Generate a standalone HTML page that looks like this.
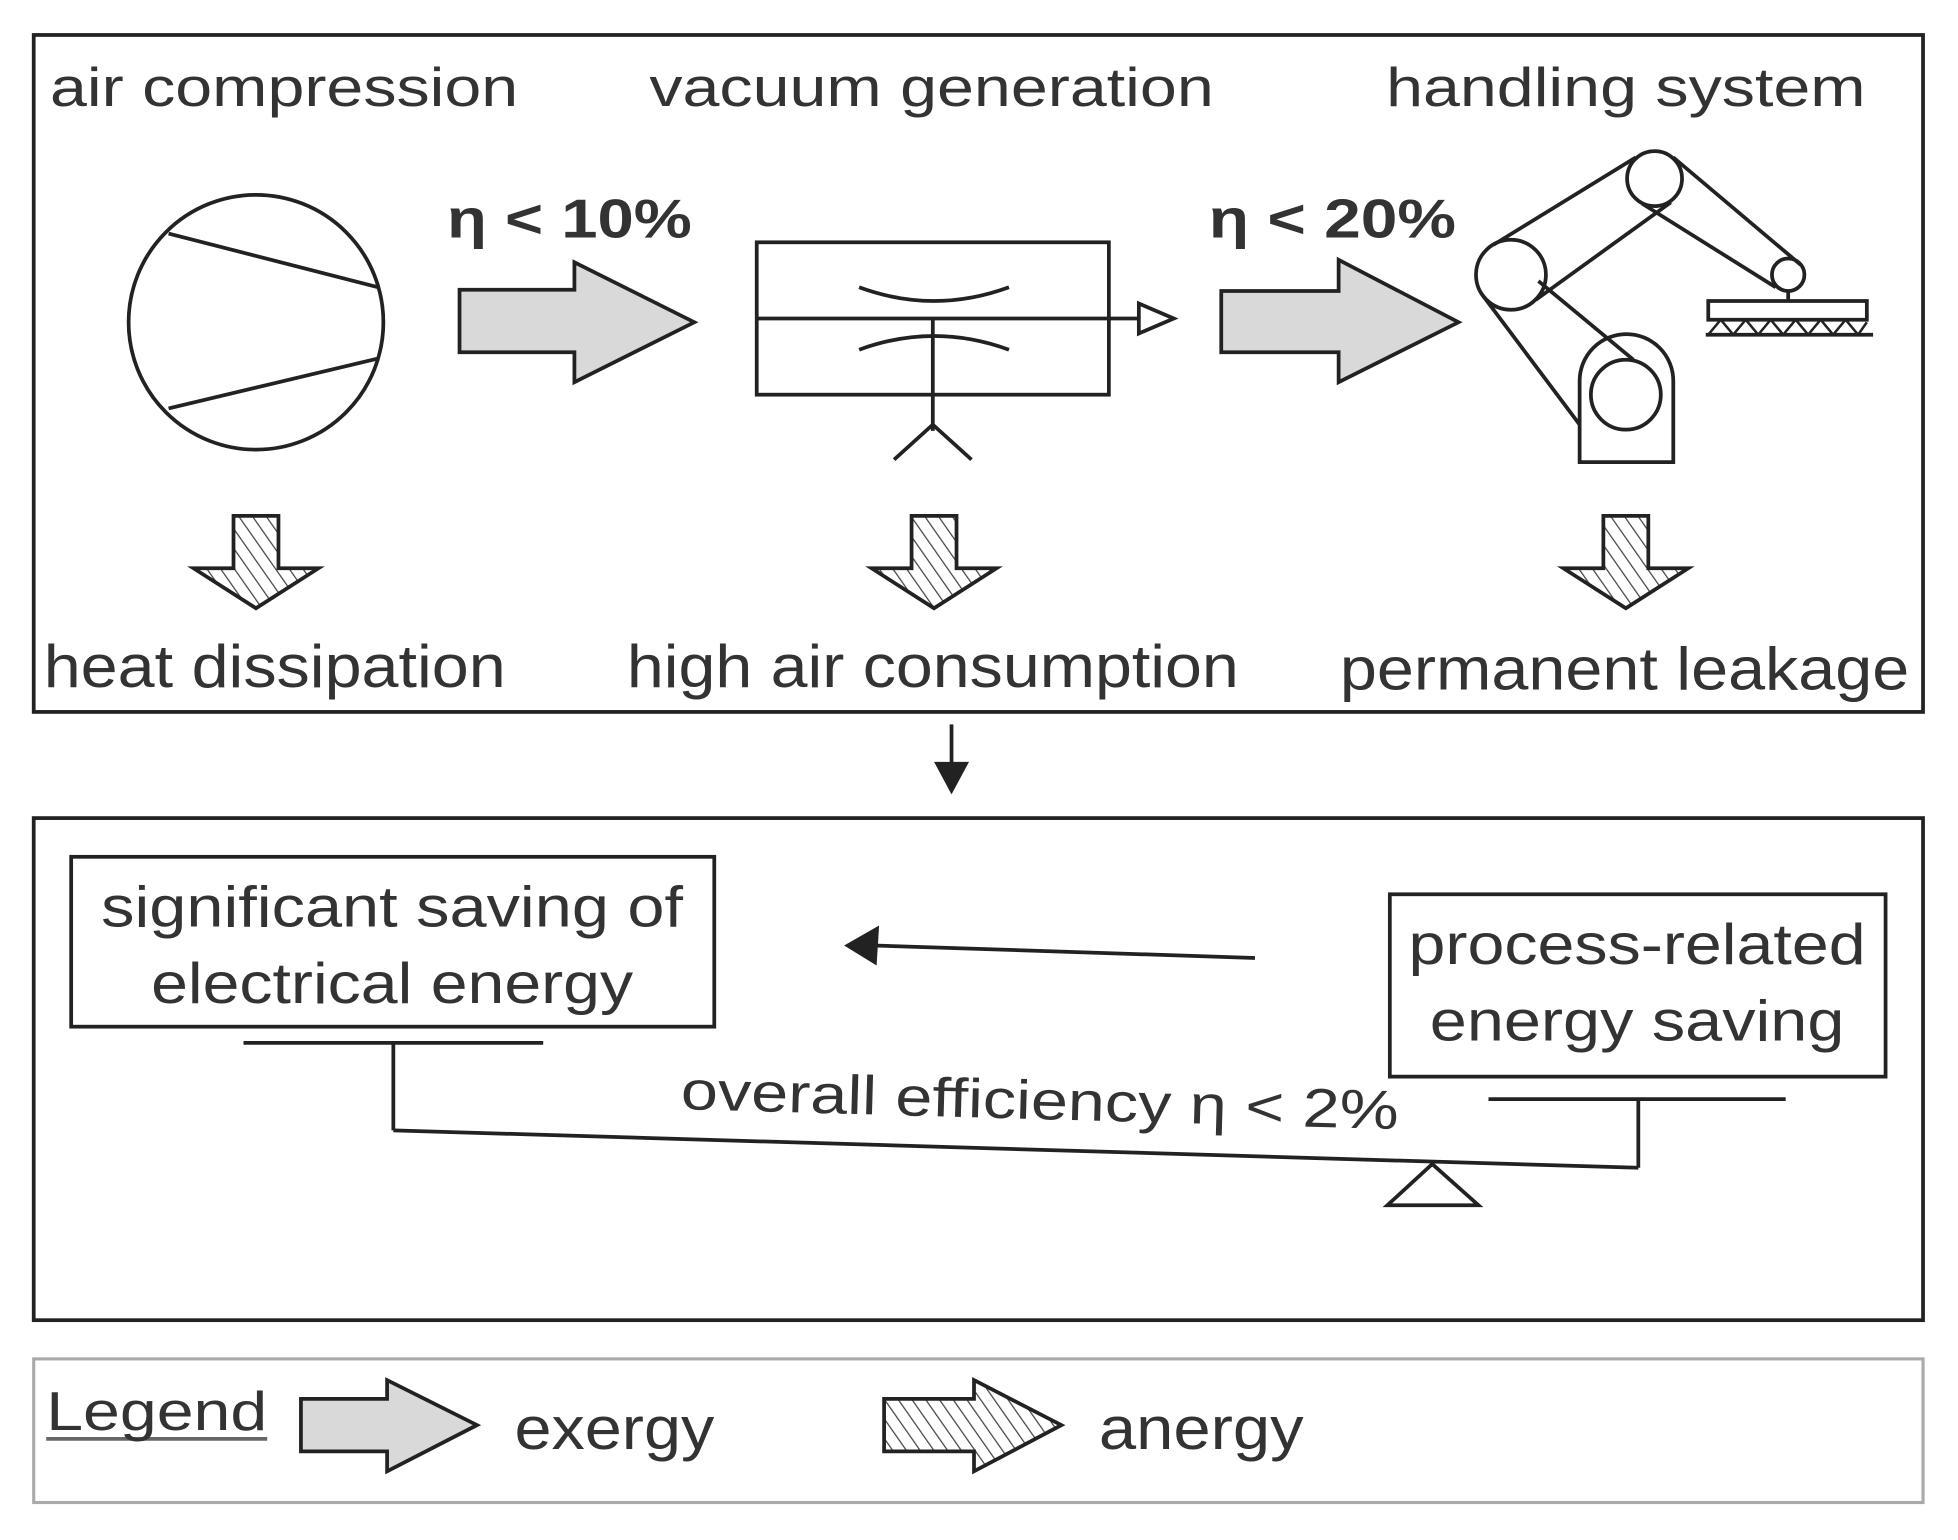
<!DOCTYPE html>
<html><head><meta charset="utf-8"><style>html,body{margin:0;padding:0;background:#fff}svg{display:block}</style></head>
<body>
<svg width="1958" height="1540" viewBox="0 0 1568 1233" preserveAspectRatio="none" xmlns="http://www.w3.org/2000/svg">
<defs>
<pattern id="h" width="9" height="9" patternUnits="userSpaceOnUse" patternTransform="rotate(-35)">
<rect width="9" height="9" fill="#fff"/><line x1="0" y1="0" x2="0" y2="9" stroke="#444" stroke-width="2"/></pattern>
</defs>
<g font-family="Liberation Sans, sans-serif" fill="#333" stroke="none">
<g fill="none" stroke="#222" stroke-width="3">
<rect x="27" y="28" width="1513" height="542"/>
<rect x="27" y="655" width="1513" height="402"/>
<rect x="27" y="1088" width="1513" height="115" stroke="#aaa" stroke-width="2.5"/>
</g>
<text x="40" y="85" font-size="44" textLength="375" lengthAdjust="spacingAndGlyphs">air compression</text>
<text x="520" y="85" font-size="44" textLength="452" lengthAdjust="spacingAndGlyphs">vacuum generation</text>
<text x="1110" y="85" font-size="44" textLength="384" lengthAdjust="spacingAndGlyphs">handling system</text>
<text x="358" y="190" font-size="44" font-weight="bold" textLength="196" lengthAdjust="spacingAndGlyphs">η &lt; 10%</text>
<text x="968" y="190" font-size="44" font-weight="bold" textLength="198" lengthAdjust="spacingAndGlyphs">η &lt; 20%</text>
<text x="35" y="550" font-size="48" textLength="370" lengthAdjust="spacingAndGlyphs">heat dissipation</text>
<text x="502" y="550" font-size="48" textLength="490" lengthAdjust="spacingAndGlyphs">high air consumption</text>
<text x="1073" y="552" font-size="48" textLength="456" lengthAdjust="spacingAndGlyphs">permanent leakage</text>
<g fill="none" stroke="#222" stroke-width="3">
<circle cx="205" cy="258" r="102"/>
<line x1="135" y1="187" x2="303" y2="230"/><line x1="135" y1="327" x2="303" y2="287"/>
<path d="M368,232H460V210L556,258L460,306V282H368Z" fill="#d9d9d9"/>
<path d="M978,233H1072V208L1168,258L1072,306V282H978Z" fill="#d9d9d9"/>
<rect x="606" y="194" width="282" height="122"/>
<line x1="606" y1="255" x2="912" y2="255"/>
<path d="M912,243L940,255L912,267Z" fill="#fff"/>
<path d="M688,230Q748,252 808,230"/><path d="M688,280Q748,258 808,280"/>
<line x1="747" y1="255" x2="747" y2="345"/>
<path d="M716,368L747,340L778,368"/>
<path d="M1265,370V305A37.5,37.5 0 0 1 1340,305V370Z"/>
<circle cx="1302" cy="316" r="28"/>
<circle cx="1210" cy="220" r="28"/>
<circle cx="1325" cy="143" r="22"/>
<circle cx="1432" cy="220" r="13"/>
<line x1="1187" y1="236" x2="1265" y2="340"/><line x1="1232" y1="225" x2="1308" y2="288"/>
<line x1="1196" y1="196" x2="1310" y2="126"/><line x1="1230" y1="240" x2="1338" y2="162"/>
<line x1="1340" y1="126" x2="1442" y2="212"/><line x1="1315" y1="163" x2="1422" y2="230"/>
<line x1="1432" y1="233" x2="1432" y2="241"/>
<rect x="1368" y="241" width="127" height="15"/>
<path d="M1368,268L1378,256L1388,268L1398,256L1408,268L1418,256L1428,268L1438,256L1448,268L1458,256L1468,268L1478,256L1488,268L1495,258" stroke-width="2"/>
<line x1="1366" y1="268" x2="1500" y2="268"/>
<path d="M187,413H223V455H255L205,487L155,455H187Z" fill="url(#h)"/>
<path d="M730,413H766V455H798L748,487L698,455H730Z" fill="url(#h)"/>
<path d="M1284,413H1320V455H1352L1302,487L1252,455H1284Z" fill="url(#h)"/>
<line x1="762" y1="580" x2="762" y2="615"/>
</g>
<path d="M748,610H776L762,636Z" fill="#222"/>
<g fill="none" stroke="#222" stroke-width="3">
<rect x="57" y="686" width="515" height="136"/>
<rect x="1113" y="716" width="397" height="146"/>
<line x1="1005" y1="767" x2="700" y2="757"/>
<line x1="195" y1="835" x2="435" y2="835"/>
<line x1="315" y1="835" x2="315" y2="905"/>
<line x1="315" y1="905" x2="1312" y2="935"/>
<line x1="1312" y1="880" x2="1312" y2="935"/>
<line x1="1192" y1="880" x2="1430" y2="880"/>
<path d="M1147,932L1111,965H1184Z"/>
<path d="M241,1120H310V1105L382,1141L310,1178V1162H241Z" fill="#d9d9d9"/>
<path d="M708,1120H780V1105L850,1141L780,1178V1162H708Z" fill="url(#h)"/>
<line x1="37" y1="1152" x2="214" y2="1152" stroke="#666"/>
</g>
<path d="M676,757L704,741L702,773Z" fill="#222"/>
<text x="314" y="742" font-size="46" text-anchor="middle" textLength="466" lengthAdjust="spacingAndGlyphs">significant saving of</text>
<text x="314" y="803" font-size="46" text-anchor="middle" textLength="386" lengthAdjust="spacingAndGlyphs">electrical energy</text>
<text x="1311" y="772" font-size="46" text-anchor="middle" textLength="366" lengthAdjust="spacingAndGlyphs">process-related</text>
<text x="1311" y="833" font-size="46" text-anchor="middle" textLength="332" lengthAdjust="spacingAndGlyphs">energy saving</text>
<text x="545" y="888" font-size="44" transform="rotate(1.6 545 888)" textLength="575" lengthAdjust="spacingAndGlyphs">overall efficiency η &lt; 2%</text>
<text x="37" y="1145" font-size="44" textLength="177" lengthAdjust="spacingAndGlyphs">Legend</text>
<text x="412" y="1160" font-size="48" textLength="160" lengthAdjust="spacingAndGlyphs">exergy</text>
<text x="880" y="1160" font-size="48" textLength="164" lengthAdjust="spacingAndGlyphs">anergy</text>
</g>
</svg>
</body></html>
